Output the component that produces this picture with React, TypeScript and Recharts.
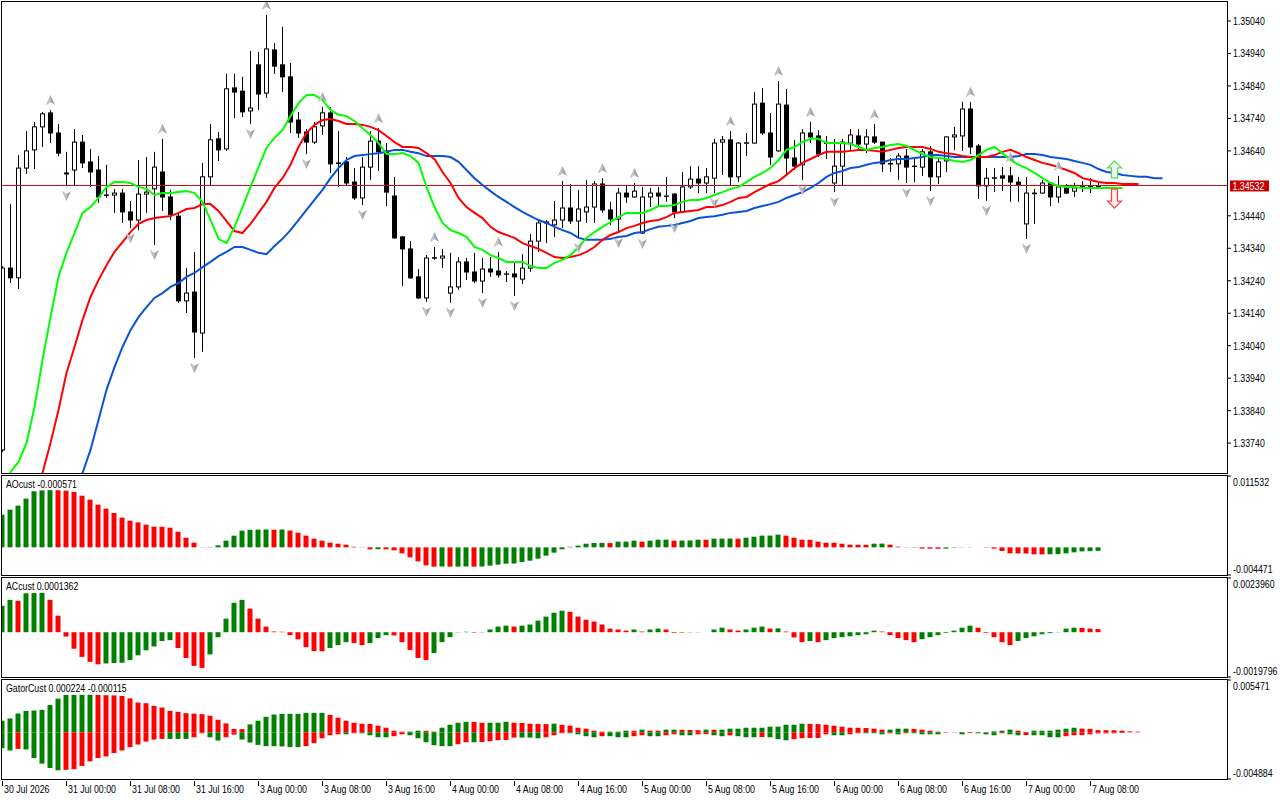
import React from 'react';
import { ComposedChart, Bar, Line, Scatter, XAxis, YAxis, ReferenceLine, Cell } from 'recharts';

// ---- price bars (H1) ----
const opens = [1.33719,1.34279,1.34249,1.34587,1.34643,1.34714,1.34757,1.34695,1.34572,1.34581,
  1.34667,1.34606,1.34581,1.34504,1.34504,1.34510,1.34452,1.34427,1.34507,1.34523,
  1.34575,1.34498,1.34439,1.34178,1.34205,1.34079,1.34560,1.34677,1.34646,1.34834,
  1.34824,1.34763,1.34905,1.34818,1.34951,1.34905,1.34868,1.34735,1.34698,1.34667,
  1.34717,1.34757,1.34603,1.34606,1.34544,1.34495,1.34590,1.34670,1.34640,1.34501,
  1.34375,1.34338,1.34252,1.34187,1.34310,1.34310,1.34202,1.34221,1.34298,1.34267,
  1.34239,1.34276,1.34270,1.34261,1.34261,1.34245,1.34279,1.34362,1.34421,1.34412,
  1.34427,1.34464,1.34424,1.34452,1.34467,1.34538,1.34458,1.34430,1.34510,1.34498,
  1.34387,1.34498,1.34510,1.34501,1.34507,1.34452,1.34529,1.34553,1.34541,1.34556,
  1.34667,1.34674,1.34560,1.34664,1.34664,1.34787,1.34695,1.34640,1.34781,1.34618,
  1.34597,1.34695,1.34686,1.34664,1.34541,1.34593,1.34664,1.34686,1.34661,1.34683,
  1.34667,1.34600,1.34600,1.34624,1.34593,1.34590,1.34637,1.34560,1.34609,1.34683,
  1.34686,1.34769,1.34655,1.34532,1.34556,1.34563,1.34563,1.34544,1.34415,1.34508,
  1.34510,1.34541,1.34498,1.34526,1.34516,1.34529,1.34532,1.34529];
const highs = [1.34285,1.34476,1.34627,1.34701,1.34729,1.34760,1.34766,1.34723,1.34637,1.34707,
  1.34689,1.34646,1.34624,1.34597,1.34523,1.34523,1.34486,1.34612,1.34621,1.34637,
  1.34677,1.34520,1.34449,1.34279,1.34329,1.34603,1.34723,1.34698,1.34877,1.34877,
  1.34868,1.34948,1.34945,1.35059,1.34972,1.35022,1.34911,1.34760,1.34707,1.34729,
  1.34775,1.34775,1.34701,1.34621,1.34587,1.34621,1.34701,1.34710,1.34664,1.34560,
  1.34378,1.34362,1.34276,1.34319,1.34344,1.34338,1.34326,1.34313,1.34310,1.34326,
  1.34310,1.34313,1.34329,1.34270,1.34295,1.34322,1.34384,1.34424,1.34427,1.34486,
  1.34547,1.34538,1.34520,1.34550,1.34547,1.34556,1.34483,1.34526,1.34535,1.34541,
  1.34529,1.34526,1.34529,1.34560,1.34510,1.34575,1.34593,1.34593,1.34587,1.34677,
  1.34686,1.34701,1.34667,1.34695,1.34821,1.34834,1.34757,1.34855,1.34831,1.34674,
  1.34707,1.34729,1.34704,1.34686,1.34677,1.34677,1.34707,1.34707,1.34707,1.34723,
  1.34668,1.34618,1.34633,1.34646,1.34618,1.34646,1.34655,1.34618,1.34685,1.34714,
  1.34791,1.34791,1.34661,1.34587,1.34587,1.34590,1.34590,1.34560,1.34560,1.34523,
  1.34550,1.34543,1.34563,1.34538,1.34541,1.34547,1.34556,1.34541];
const lows = [1.33712,1.34233,1.34215,1.34569,1.34584,1.34652,1.34664,1.34624,1.34532,1.34535,
  1.34587,1.34529,1.34480,1.34495,1.34449,1.34418,1.34402,1.34396,1.34449,1.34350,
  1.34455,1.34427,1.34172,1.34141,1.34002,1.34021,1.34535,1.34609,1.34640,1.34741,
  1.34744,1.34723,1.34766,1.34803,1.34877,1.34821,1.34695,1.34680,1.34630,1.34661,
  1.34689,1.34572,1.34529,1.34535,1.34489,1.34473,1.34550,1.34578,1.34470,1.34369,
  1.34224,1.34246,1.34184,1.34175,1.34304,1.34279,1.34172,1.34212,1.34242,1.34233,
  1.34202,1.34252,1.34249,1.34236,1.34193,1.34230,1.34267,1.34329,1.34356,1.34375,
  1.34402,1.34415,1.34372,1.34418,1.34418,1.34449,1.34412,1.34387,1.34480,1.34495,
  1.34384,1.34467,1.34473,1.34483,1.34433,1.34449,1.34523,1.34510,1.34510,1.34510,
  1.34566,1.34535,1.34544,1.34624,1.34662,1.34689,1.34597,1.34637,1.34566,1.34581,
  1.34550,1.34664,1.34621,1.34615,1.34513,1.34535,1.34643,1.34643,1.34633,1.34661,
  1.34575,1.34575,1.34550,1.34541,1.34544,1.34563,1.34516,1.34538,1.34575,1.34643,
  1.34640,1.34630,1.34492,1.34486,1.34513,1.34516,1.34483,1.34483,1.34369,1.34415,
  1.34507,1.34470,1.34480,1.34507,1.34498,1.34513,1.34510,1.34526];
const closes = [1.34279,1.34249,1.34587,1.34640,1.34714,1.34754,1.34695,1.34633,1.34569,1.34667,
  1.34603,1.34575,1.34498,1.34504,1.34510,1.34452,1.34427,1.34507,1.34513,1.34590,
  1.34498,1.34443,1.34178,1.34202,1.34082,1.34560,1.34674,1.34643,1.34831,1.34821,
  1.34760,1.34772,1.34815,1.34954,1.34901,1.34868,1.34729,1.34695,1.34667,1.34714,
  1.34757,1.34600,1.34601,1.34541,1.34495,1.34590,1.34670,1.34637,1.34513,1.34372,
  1.34338,1.34249,1.34187,1.34310,1.34311,1.34316,1.34221,1.34298,1.34267,1.34239,
  1.34276,1.34267,1.34258,1.34260,1.34252,1.34279,1.34362,1.34418,1.34418,1.34427,
  1.34464,1.34424,1.34461,1.34467,1.34538,1.34458,1.34430,1.34510,1.34498,1.34516,
  1.34498,1.34510,1.34501,1.34500,1.34452,1.34529,1.34553,1.34541,1.34560,1.34664,
  1.34674,1.34560,1.34664,1.34665,1.34784,1.34695,1.34621,1.34784,1.34618,1.34593,
  1.34695,1.34683,1.34630,1.34663,1.34593,1.34667,1.34689,1.34661,1.34683,1.34667,
  1.34600,1.34601,1.34624,1.34590,1.34592,1.34637,1.34560,1.34606,1.34683,1.34689,
  1.34769,1.34652,1.34532,1.34556,1.34557,1.34556,1.34544,1.34535,1.34510,1.34510,
  1.34541,1.34498,1.34529,1.34510,1.34526,1.34532,1.34526,1.34532];

// ---- alligator lines (already shifted forward) ----
const lips = [1.33580,1.33651,1.33682,1.33740,1.33851,1.33996,1.34128,1.34252,1.34326,1.34387,
  1.34449,1.34467,1.34495,1.34529,1.34544,1.34544,1.34541,1.34529,1.34523,1.34504,
  1.34510,1.34510,1.34513,1.34516,1.34510,1.34483,1.34427,1.34369,1.34356,1.34406,
  1.34467,1.34529,1.34590,1.34649,1.34680,1.34704,1.34747,1.34787,1.34812,1.34812,
  1.34797,1.34766,1.34751,1.34747,1.34732,1.34710,1.34689,1.34664,1.34630,1.34630,
  1.34633,1.34624,1.34603,1.34529,1.34467,1.34418,1.34396,1.34387,1.34375,1.34344,
  1.34335,1.34319,1.34310,1.34298,1.34298,1.34298,1.34285,1.34279,1.34279,1.34295,
  1.34304,1.34319,1.34344,1.34372,1.34390,1.34406,1.34421,1.34436,1.34449,1.34449,
  1.34449,1.34458,1.34470,1.34470,1.34473,1.34483,1.34489,1.34489,1.34495,1.34504,
  1.34513,1.34523,1.34529,1.34544,1.34560,1.34572,1.34587,1.34612,1.34643,1.34652,
  1.34667,1.34677,1.34677,1.34664,1.34664,1.34664,1.34661,1.34652,1.34643,1.34649,
  1.34652,1.34658,1.34661,1.34655,1.34643,1.34630,1.34621,1.34618,1.34615,1.34609,
  1.34606,1.34612,1.34627,1.34643,1.34652,1.34633,1.34612,1.34597,1.34587,1.34572,
  1.34556,1.34541,1.34532,1.34529,1.34529,1.34526,1.34526,1.34526,1.34526,1.34526,
  1.34526];
const teeth = [null,null,null,null,1.33555,1.33648,1.33740,1.33842,1.33956,1.34036,
  1.34119,1.34190,1.34242,1.34288,1.34329,1.34359,1.34390,1.34415,1.34427,1.34433,
  1.34436,1.34439,1.34449,1.34461,1.34464,1.34476,1.34476,1.34455,1.34424,1.34393,
  1.34387,1.34415,1.34449,1.34483,1.34526,1.34556,1.34597,1.34652,1.34695,1.34720,
  1.34735,1.34738,1.34732,1.34723,1.34723,1.34720,1.34714,1.34704,1.34686,1.34667,
  1.34652,1.34652,1.34649,1.34633,1.34615,1.34575,1.34541,1.34495,1.34467,1.34449,
  1.34433,1.34406,1.34390,1.34381,1.34372,1.34356,1.34347,1.34338,1.34326,1.34313,
  1.34310,1.34313,1.34319,1.34329,1.34344,1.34366,1.34381,1.34390,1.34402,1.34409,
  1.34418,1.34424,1.34427,1.34436,1.34449,1.34452,1.34455,1.34458,1.34467,1.34467,
  1.34473,1.34483,1.34495,1.34498,1.34513,1.34526,1.34538,1.34547,1.34566,1.34587,
  1.34603,1.34615,1.34627,1.34637,1.34637,1.34637,1.34640,1.34643,1.34643,1.34640,
  1.34637,1.34643,1.34649,1.34652,1.34652,1.34652,1.34646,1.34637,1.34633,1.34630,
  1.34624,1.34621,1.34621,1.34621,1.34627,1.34637,1.34643,1.34633,1.34621,1.34612,
  1.34603,1.34597,1.34590,1.34581,1.34572,1.34556,1.34550,1.34544,1.34541,1.34541,
  1.34538,1.34538,1.34538];
const jaw = [null,null,null,null,null,null,null,null,null,1.33577,
  1.33648,1.33719,1.33811,1.33904,1.33974,1.34036,1.34088,1.34128,1.34159,1.34187,
  1.34202,1.34221,1.34233,1.34252,1.34264,1.34282,1.34298,1.34316,1.34329,1.34344,
  1.34344,1.34335,1.34326,1.34322,1.34347,1.34369,1.34396,1.34427,1.34458,1.34489,
  1.34520,1.34556,1.34587,1.34612,1.34624,1.34627,1.34630,1.34633,1.34637,1.34643,
  1.34643,1.34637,1.34633,1.34624,1.34624,1.34624,1.34621,1.34606,1.34581,1.34556,
  1.34535,1.34516,1.34498,1.34483,1.34467,1.34452,1.34439,1.34427,1.34418,1.34406,
  1.34396,1.34387,1.34372,1.34366,1.34366,1.34366,1.34369,1.34375,1.34378,1.34387,
  1.34390,1.34399,1.34406,1.34409,1.34412,1.34418,1.34424,1.34433,1.34436,1.34439,
  1.34443,1.34449,1.34452,1.34455,1.34464,1.34470,1.34476,1.34483,1.34495,1.34504,
  1.34513,1.34526,1.34541,1.34560,1.34572,1.34578,1.34587,1.34590,1.34597,1.34603,
  1.34606,1.34612,1.34615,1.34615,1.34618,1.34621,1.34627,1.34627,1.34624,1.34621,
  1.34621,1.34621,1.34621,1.34621,1.34621,1.34621,1.34621,1.34624,1.34630,1.34630,
  1.34627,1.34621,1.34618,1.34615,1.34609,1.34603,1.34597,1.34584,1.34575,1.34572,
  1.34566,1.34563,1.34560,1.34560,1.34556,1.34556];

// ---- fractals (bar indexes) and alligator signal ----
const fractalUpBars = [6, 20, 33, 40, 47, 54, 62, 70, 75, 79, 91, 97, 101, 109, 121, 126, 132];
const fractalDownBars = [8, 16, 19, 24, 31, 38, 45, 53, 56, 60, 64, 72, 77, 80, 84, 89, 100, 104, 113, 116, 123, 128];
const signalUp = [{ i: 139, p: 1.34583 }];
const signalDown = [{ i: 139, p: 1.34493 }];

// ---- oscillators ----
const ao = [0.00528,0.00609,0.00674,0.00787,0.00906,0.00920,0.00925,0.00922,0.00916,0.00895,
  0.00835,0.00771,0.00690,0.00625,0.00555,0.00480,0.00431,0.00404,0.00367,0.00334,
  0.00332,0.00318,0.00253,0.00156,0.00075,0.00003,-0.00004,0.00032,0.00108,0.00189,
  0.00270,0.00284,0.00287,0.00289,0.00285,0.00288,0.00272,0.00237,0.00189,0.00140,
  0.00108,0.00075,0.00059,0.00043,0.00010,-0.00003,-0.00032,-0.00030,-0.00031,-0.00049,
  -0.00097,-0.00162,-0.00226,-0.00291,-0.00313,-0.00310,-0.00312,-0.00311,-0.00309,-0.00312,
  -0.00310,-0.00296,-0.00280,-0.00264,-0.00262,-0.00237,-0.00216,-0.00183,-0.00135,-0.00086,
  -0.00032,0.00008,0.00027,0.00059,0.00070,0.00072,0.00069,0.00092,0.00093,0.00108,
  0.00092,0.00108,0.00124,0.00125,0.00108,0.00110,0.00111,0.00124,0.00123,0.00140,
  0.00141,0.00142,0.00140,0.00156,0.00172,0.00189,0.00190,0.00205,0.00189,0.00156,
  0.00124,0.00122,0.00092,0.00075,0.00074,0.00059,0.00043,0.00042,0.00041,0.00059,
  0.00060,0.00043,0.00011,-0.00003,-0.00005,-0.00020,-0.00022,-0.00023,-0.00020,-0.00006,
  -0.00003,0.00003,0.00000,-0.00004,-0.00020,-0.00059,-0.00097,-0.00098,-0.00099,-0.00113,
  -0.00114,-0.00112,-0.00110,-0.00097,-0.00081,-0.00066,-0.00062,-0.000571];
const ac = [0.00117,0.00143,0.00139,0.00172,0.00173,0.00174,0.00143,0.00073,-0.00019,-0.00073,
  -0.00109,-0.00131,-0.00142,-0.00138,-0.00136,-0.00135,-0.00123,-0.00102,-0.00080,-0.00063,
  -0.00039,-0.00035,-0.00070,-0.00114,-0.00149,-0.00158,-0.00098,-0.00022,0.00060,0.00130,
  0.00143,0.00104,0.00060,0.00025,0.00003,0.00002,-0.00013,-0.00031,-0.00066,-0.00083,
  -0.00084,-0.00070,-0.00057,-0.00044,-0.00048,-0.00057,-0.00048,-0.00026,-0.00013,-0.00014,
  -0.00044,-0.00079,-0.00114,-0.00123,-0.00092,-0.00044,-0.00022,-0.00001,0.00002,-0.00002,
  -0.00001,0.00012,0.00025,0.00029,0.00025,0.00029,0.00034,0.00051,0.00069,0.00086,
  0.00095,0.00090,0.00069,0.00055,0.00047,0.00034,0.00016,0.00012,0.00007,0.00012,
  0.00003,0.00012,0.00016,0.00012,-0.00003,-0.00002,-0.00001,0.00001,0.00000,0.00012,
  0.00020,0.00012,0.00007,0.00012,0.00020,0.00025,0.00016,0.00017,0.00003,-0.00023,
  -0.00044,-0.00039,-0.00044,-0.00035,-0.00026,-0.00022,-0.00018,-0.00013,-0.00009,0.00007,
  0.00003,-0.00013,-0.00026,-0.00035,-0.00044,-0.00031,-0.00022,-0.00013,-0.00003,0.00007,
  0.00020,0.00029,0.00020,-0.00003,-0.00022,-0.00044,-0.00057,-0.00039,-0.00026,-0.00018,
  -0.00009,-0.00004,0.00001,0.00016,0.00020,0.00019,0.00016,0.0001362];
const gatorUp = [0.00121,0.00145,0.00197,0.00224,0.00228,0.00235,0.00286,0.00352,0.00390,0.00391,
  0.00392,0.00393,0.00390,0.00388,0.00386,0.00380,0.00355,0.00311,0.00304,0.00276,
  0.00259,0.00224,0.00214,0.00200,0.00195,0.00190,0.00173,0.00131,0.00093,0.00035,
  0.00033,0.00083,0.00121,0.00162,0.00186,0.00193,0.00193,0.00193,0.00204,0.00204,
  0.00204,0.00183,0.00152,0.00121,0.00100,0.00090,0.00088,0.00069,0.00048,0.00017,
  0.00007,0.00007,0.00017,0.00016,0.00007,0.00048,0.00079,0.00100,0.00110,0.00109,
  0.00100,0.00100,0.00100,0.00110,0.00100,0.00098,0.00090,0.00088,0.00086,0.00090,
  0.00079,0.00069,0.00048,0.00038,0.00017,0.00007,0.00007,0.00007,0.00017,0.00016,
  0.00028,0.00017,0.00016,0.00028,0.00028,0.00026,0.00024,0.00022,0.00028,0.00026,
  0.00028,0.00038,0.00038,0.00048,0.00048,0.00048,0.00059,0.00059,0.00079,0.00079,
  0.00090,0.00088,0.00086,0.00079,0.00069,0.00059,0.00048,0.00047,0.00045,0.00038,
  0.00028,0.00028,0.00038,0.00038,0.00036,0.00028,0.00017,0.00007,0.00002,0.00001,
  0.00002,0.00001,0.000007,0.000003,0.00010,0.00017,0.00028,0.00017,0.00002,0.00017,
  0.00017,0.00017,0.00028,0.00038,0.00048,0.00038,0.00036,0.000224,0.00022,0.00021,
  0.00017,0.00010,0.00007];
const gatorDown = [-0.00166,-0.00190,-0.00173,-0.00179,-0.00269,-0.00328,-0.00373,-0.00397,-0.00393,-0.00386,
  -0.00352,-0.00304,-0.00269,-0.00252,-0.00217,-0.00190,-0.00155,-0.00128,-0.00097,-0.00076,
  -0.00069,-0.00069,-0.00069,-0.00069,-0.00052,-0.00010,-0.00052,-0.00086,-0.00052,-0.00024,
  -0.00076,-0.00107,-0.00131,-0.00145,-0.00145,-0.00148,-0.00155,-0.00155,-0.00145,-0.00114,
  -0.00062,-0.00031,-0.00021,-0.00021,-0.00010,-0.00010,-0.00031,-0.00052,-0.00052,-0.00041,
  -0.00021,-0.00031,-0.00062,-0.00104,-0.00135,-0.00145,-0.00145,-0.00124,-0.00104,-0.00104,
  -0.00102,-0.00093,-0.00083,-0.00081,-0.00055,-0.00055,-0.00055,-0.00062,-0.00052,-0.00031,
  -0.00010,-0.00010,-0.00021,-0.00041,-0.00052,-0.00041,-0.00041,-0.00052,-0.00052,-0.00041,
  -0.00031,-0.00041,-0.00041,-0.00031,-0.00021,-0.00031,-0.00031,-0.00021,-0.00019,-0.00031,
  -0.00041,-0.00031,-0.00041,-0.00052,-0.00052,-0.00050,-0.00052,-0.00072,-0.00083,-0.00072,
  -0.00062,-0.00060,-0.00059,-0.00021,-0.00031,-0.00031,-0.00021,-0.00010,-0.00010,-0.00010,
  -0.00021,-0.00010,-0.00021,-0.00010,-0.00010,-0.00021,-0.00021,-0.00021,-0.00003,-0.00002,
  -0.00021,-0.00007,-0.00010,-0.00021,-0.00031,-0.00010,-0.00021,-0.00031,-0.00029,-0.00031,
  -0.00031,-0.00052,-0.00052,-0.00041,-0.00031,-0.00029,-0.00021,-0.000115,-0.00011,-0.00010,
  -0.00007];

// ---- axes ----
const priceTicks = [1.3504, 1.3494, 1.3484, 1.3474, 1.3464, 1.3444, 1.3434, 1.3424, 1.3414, 1.3404, 1.3394, 1.3384, 1.3374];
const priceRange = [1.336479, 1.350985];
const aoRange = [-0.004471, 0.011532];
const acRange = [-0.0019796, 0.002396];
const gatorRange = [-0.004884, 0.005471];
const timeTicks = [0, 8, 16, 24, 32, 40, 48, 56, 64, 72, 80, 88, 96, 104, 112, 120, 128, 136];
const timeLabels = ['30 Jul 2026', '31 Jul 00:00', '31 Jul 08:00', '31 Jul 16:00', '3 Aug 00:00', '3 Aug 08:00',
  '3 Aug 16:00', '4 Aug 00:00', '4 Aug 08:00', '4 Aug 16:00', '5 Aug 00:00', '5 Aug 08:00', '5 Aug 16:00',
  '6 Aug 00:00', '6 Aug 08:00', '6 Aug 16:00', '7 Aug 00:00', '7 Aug 08:00'];

const X_DOMAIN = [-0.0625, 153.0625];
const FONT = "'Liberation Sans', Arial, sans-serif";
const SQ = 0.8; // horizontal squeeze to mimic the terminal's narrow font
const GREEN = '#008000';
const RED = '#ff0000';
const W = 1280;

const last = closes.length - 1;

const rows = Array.from({ length: jaw.length }, (_, i) => ({
  i,
  candle: i <= last ? [lows[i], highs[i]] : null,
  o: opens[i], h: highs[i], l: lows[i], c: closes[i],
  lips: lips[i] ?? null,
  teeth: teeth[i] ?? null,
  jaw: jaw[i] ?? null,
  ao: ao[i] ?? null,
  ac: ac[i] ?? null,
  gu: gatorUp[i] ?? null,
  gd: gatorDown[i] ?? null,
}));

const fractalUp = fractalUpBars.map((i) => ({ i, p: highs[i] }));
const fractalDown = fractalDownBars.map((i) => ({ i, p: lows[i] }));

const risingColor = (arr: (number | null)[], k: number) =>
  k === 0 || arr[k - 1] == null || (arr[k] as number) > (arr[k - 1] as number) ? GREEN : RED;
const gatorUpColor = (k: number) =>
  k === 0 || gatorUp[k] >= gatorUp[k - 1] ? GREEN : RED;
const gatorDownColor = (k: number) =>
  k === 0 || gatorDown[k] == null || gatorDown[k] <= gatorDown[k - 1] ? GREEN : RED;

const SqText = ({ x, y, fill = '#000', children }: any) => (
  <text transform={`translate(${x},${y}) scale(${SQ},1)`} fontSize={11} fontFamily={FONT} fill={fill}>
    {children}
  </text>
);

const Candle = (props: any) => {
  const { x, y, width, height, payload } = props;
  if (!payload || payload.h == null || !Number.isFinite(y)) return null;
  const cx = Math.round(x + width / 2) + 0.5;
  const span = payload.h - payload.l;
  const k = span > 0 ? height / span : 0;
  const top = y + (payload.h - Math.max(payload.o, payload.c)) * k;
  const bot = y + (payload.h - Math.min(payload.o, payload.c)) * k;
  const bull = payload.c >= payload.o;
  return (
    <g>
      <line x1={cx} x2={cx} y1={y} y2={y + height} stroke="#000" strokeWidth={1} />
      {bull ? (
        <rect x={cx - 2} y={top} width={4} height={Math.max(bot - top, 0.5)} fill="#fff" stroke="#000" strokeWidth={1} />
      ) : (
        <rect x={cx - 2.5} y={top - 0.5} width={5} height={Math.max(bot - top, 0) + 1} fill="#000" />
      )}
    </g>
  );
};

const FractalUpMark = (props: any) => {
  const { cx, cy } = props;
  const y = cy - 10;
  return (
    <g>
      <polygon points={`${cx},${y - 5} ${cx + 4.5},${y + 5} ${cx},${y + 2} ${cx - 4.5},${y + 5}`} fill="#a0a0a8" />
      <polygon points={`${cx},${y - 5} ${cx},${y + 2} ${cx - 4.5},${y + 5}`} fill="#c4c4cc" />
    </g>
  );
};

const FractalDownMark = (props: any) => {
  const { cx, cy } = props;
  const y = cy + 10;
  return (
    <g>
      <polygon points={`${cx},${y + 5} ${cx + 4.5},${y - 5} ${cx},${y - 2} ${cx - 4.5},${y - 5}`} fill="#a0a0a8" />
      <polygon points={`${cx},${y + 5} ${cx},${y - 2} ${cx - 4.5},${y - 5}`} fill="#c4c4cc" />
    </g>
  );
};

const SignalUpMark = (props: any) => {
  const { cx, cy } = props;
  const d = `M${cx},${cy - 8.5} L${cx + 7},${cy - 1.5} L${cx + 3},${cy - 1.5} L${cx + 3},${cy + 8.5} L${cx - 3},${cy + 8.5} L${cx - 3},${cy - 1.5} L${cx - 7},${cy - 1.5} Z`;
  return <path d={d} fill="#f0fff0" stroke="#5ad35a" strokeWidth={1.2} />;
};

const SignalDownMark = (props: any) => {
  const { cx, cy } = props;
  const d = `M${cx},${cy + 9.5} L${cx + 7},${cy + 2.5} L${cx + 3},${cy + 2.5} L${cx + 3},${cy - 9.5} L${cx - 3},${cy - 9.5} L${cx - 3},${cy + 2.5} L${cx - 7},${cy + 2.5} Z`;
  return <path d={d} fill="#fff0f0" stroke="#ff3c3c" strokeWidth={1.2} />;
};

const PriceTick = (props: any) => {
  const { y, payload } = props;
  return (
    <g>
      <line x1={1227} x2={1231} y1={y} y2={y} stroke="#000" />
      <SqText x={1233} y={y + 4}>{payload.value.toFixed(5)}</SqText>
    </g>
  );
};

const makeRangeTick = (digits: number, max: number) => (props: any) => {
  const { y, payload } = props;
  const isTop = payload.value === max;
  return (
    <g>
      <line x1={1227} x2={1231} y1={y} y2={y} stroke="#000" />
      <SqText x={1233} y={y + (isTop ? 10 : -2)}>{payload.value.toFixed(digits)}</SqText>
    </g>
  );
};

const TimeTick = (props: any) => {
  const { x, y, payload } = props;
  const k = timeTicks.indexOf(payload.value);
  return (
    <g>
      <line x1={x} x2={x} y1={y} y2={y + 5} stroke="#000" />
      <SqText x={x + 1.5} y={y + 12}>{timeLabels[k]}</SqText>
    </g>
  );
};

const PriceTag = (props: any) => {
  const vb = props.viewBox || {};
  const x = vb.x + vb.width + 3;
  const y = vb.y;
  return (
    <g>
      <rect x={x} y={y - 5.5} width={39} height={11} fill="#c80000" />
      <SqText x={x + 2.5} y={y + 4} fill="#fff">{props.text}</SqText>
    </g>
  );
};

const frame = (top: number, height: number): React.CSSProperties => ({
  position: 'absolute', left: 1, top, width: 1227, height,
  border: '1px solid #000', boxSizing: 'border-box', pointerEvents: 'none',
});

const titleStyle = (top: number): React.CSSProperties => ({
  position: 'absolute', left: 6, top, fontFamily: FONT, fontSize: 11, lineHeight: '11px', color: '#000',
  whiteSpace: 'nowrap', transform: `scaleX(${SQ})`, transformOrigin: 'left top',
});

const hiddenX = <XAxis dataKey="i" type="number" domain={X_DOMAIN} allowDataOverflow hide />;

const App = () => {
  return (
    <div style={{ position: 'absolute', left: 0, top: 0, width: W, height: 800, background: '#fff', overflow: 'hidden' }}>
      {/* main price window */}
      <div style={{ position: 'absolute', left: 0, top: 0 }}>
        <ComposedChart width={W} height={475} data={rows} margin={{ top: 2, right: 0, bottom: 2, left: 2 }}>
          {hiddenX}
          <YAxis orientation="right" width={53} type="number" domain={priceRange} allowDataOverflow ticks={priceTicks}
            interval={0} tick={<PriceTick />} tickLine={false} axisLine={false} tickSize={0} />
          <ReferenceLine y={closes[last]} stroke="#d01010" strokeWidth={1} shapeRendering="crispEdges"
            label={<PriceTag text={closes[last].toFixed(5)} />} />
          <Bar dataKey="candle" barSize={5} shape={<Candle />} isAnimationActive={false} />
          <Line dataKey="jaw" stroke="#0a52d6" strokeWidth={2} dot={false} activeDot={false} isAnimationActive={false} />
          <Line dataKey="teeth" stroke="#ff0000" strokeWidth={2} dot={false} activeDot={false} isAnimationActive={false} />
          <Line dataKey="lips" stroke="#00ff00" strokeWidth={2} dot={false} activeDot={false} isAnimationActive={false} />
          <Scatter data={fractalUp} dataKey="p" shape={FractalUpMark} isAnimationActive={false} />
          <Scatter data={fractalDown} dataKey="p" shape={FractalDownMark} isAnimationActive={false} />
          <Scatter data={signalUp} dataKey="p" shape={SignalUpMark} isAnimationActive={false} />
          <Scatter data={signalDown} dataKey="p" shape={SignalDownMark} isAnimationActive={false} />
        </ComposedChart>
      </div>
      <div style={frame(1, 473)} />

      {/* AO window */}
      <div style={{ position: 'absolute', left: 0, top: 475 }}>
        <ComposedChart width={W} height={101} data={rows} margin={{ top: 1, right: 0, bottom: 1, left: 2 }}>
          {hiddenX}
          <YAxis orientation="right" width={53} type="number" domain={aoRange} allowDataOverflow ticks={[aoRange[1], aoRange[0]]}
            interval={0} tick={makeRangeTick(6, aoRange[1])} tickLine={false} axisLine={false} tickSize={0} />
          <Bar dataKey="ao" barSize={5} isAnimationActive={false}>
            {rows.map((r, k) => <Cell key={k} fill={risingColor(ao, k)} />)}
          </Bar>
        </ComposedChart>
      </div>
      <div style={frame(475, 101)} />
      <div style={titleStyle(479)}>AOcust {ao[last].toFixed(6)}</div>

      {/* AC window */}
      <div style={{ position: 'absolute', left: 0, top: 577 }}>
        <ComposedChart width={W} height={101} data={rows} margin={{ top: 1, right: 0, bottom: 1, left: 2 }}>
          {hiddenX}
          <YAxis orientation="right" width={53} type="number" domain={acRange} allowDataOverflow ticks={[acRange[1], acRange[0]]}
            interval={0} tick={makeRangeTick(7, acRange[1])} tickLine={false} axisLine={false} tickSize={0} />
          <Bar dataKey="ac" barSize={5} isAnimationActive={false}>
            {rows.map((r, k) => <Cell key={k} fill={risingColor(ac, k)} />)}
          </Bar>
        </ComposedChart>
      </div>
      <div style={frame(577, 101)} />
      <div style={titleStyle(581)}>ACcust {ac[last].toFixed(7)}</div>

      {/* Gator window */}
      <div style={{ position: 'absolute', left: 0, top: 679 }}>
        <ComposedChart width={W} height={121} data={rows} stackOffset="sign" margin={{ top: 1, right: 0, bottom: 0, left: 2 }}>
          <XAxis dataKey="i" type="number" domain={X_DOMAIN} allowDataOverflow ticks={timeTicks} interval={0}
            tick={<TimeTick />} tickLine={false} axisLine={false} tickSize={0} height={21} />
          <YAxis orientation="right" width={53} type="number" domain={gatorRange} allowDataOverflow ticks={[gatorRange[1], gatorRange[0]]}
            interval={0} tick={makeRangeTick(6, gatorRange[1])} tickLine={false} axisLine={false} tickSize={0} />
          <Bar dataKey="gu" stackId="g" barSize={5} isAnimationActive={false}>
            {rows.map((r, k) => <Cell key={k} fill={gatorUpColor(k)} />)}
          </Bar>
          <Bar dataKey="gd" stackId="g" barSize={5} isAnimationActive={false}>
            {rows.map((r, k) => <Cell key={k} fill={gatorDownColor(k)} />)}
          </Bar>
        </ComposedChart>
      </div>
      <div style={frame(679, 101)} />
      <div style={titleStyle(683)}>GatorCust {gatorUp[last].toFixed(6)} {gatorDown[last].toFixed(6)}</div>
    </div>
  );
};

export default App;
